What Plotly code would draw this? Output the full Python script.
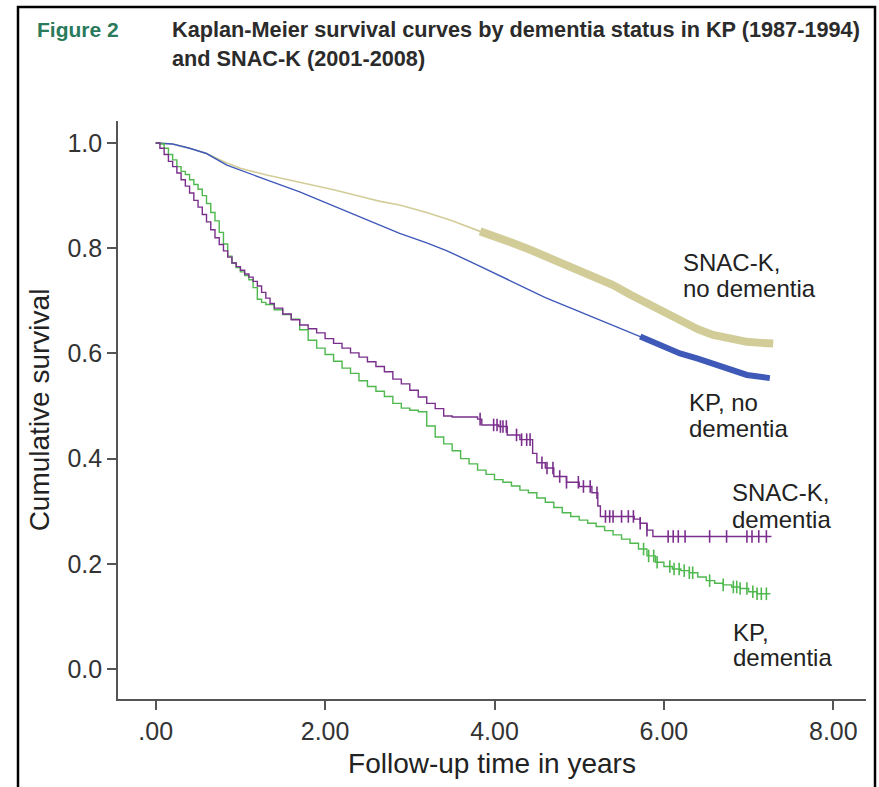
import plotly.graph_objects as go

# ---------------- data ----------------
# SNAC-K, no dementia
snack_nd_t = [0, 0.2, 0.4, 0.6, 0.84, 1.0, 1.31, 1.7, 2.1, 2.5, 2.65, 2.88, 3.2, 3.5, 3.83, 4.03, 4.2, 4.42, 4.7, 4.93, 5.15, 5.4, 5.6, 5.8, 6.0, 6.19, 6.4, 6.58, 6.8, 6.98, 7.15, 7.29]
snack_nd_s = [1.0, 0.998, 0.99, 0.98, 0.962, 0.952, 0.939, 0.925, 0.911, 0.895, 0.889, 0.882, 0.868, 0.852, 0.832, 0.822, 0.811, 0.797, 0.778, 0.762, 0.748, 0.730, 0.712, 0.695, 0.676, 0.660, 0.646, 0.635, 0.627, 0.622, 0.620, 0.619]
snack_nd_dense_from = 3.83

# KP, no dementia
kp_nd_t = [0, 0.2, 0.4, 0.6, 0.84, 1.0, 1.31, 1.7, 2.1, 2.5, 2.88, 3.2, 3.44, 3.8, 4.22, 4.6, 5.01, 5.4, 5.72, 6.0, 6.19, 6.4, 6.58, 6.8, 6.98, 7.25]
kp_nd_s = [1.0, 0.998, 0.99, 0.98, 0.958, 0.948, 0.930, 0.907, 0.880, 0.853, 0.828, 0.810, 0.795, 0.768, 0.735, 0.706, 0.679, 0.654, 0.632, 0.613, 0.600, 0.590, 0.581, 0.569, 0.559, 0.553]
kp_nd_dense_from = 5.72

# SNAC-K, dementia
snack_d_t = [0, 0.05, 0.1, 0.15, 0.2, 0.25, 0.3, 0.35, 0.4, 0.45, 0.5, 0.55, 0.6, 0.65, 0.7, 0.75, 0.8, 0.85, 0.9, 0.95, 1.0, 1.05, 1.1, 1.15, 1.2, 1.25, 1.3, 1.35, 1.4, 1.5, 1.6, 1.7, 1.8, 1.9, 2.0, 2.1, 2.2, 2.3, 2.4, 2.5, 2.6, 2.7, 2.8, 2.9, 3.0, 3.1, 3.2, 3.3, 3.4, 3.5, 3.8, 3.85, 4.05, 4.15, 4.3, 4.45, 4.5, 4.6, 4.7, 4.85, 5.0, 5.15, 5.22, 5.25, 5.65, 5.72, 5.8, 5.87, 7.27]
snack_d_s = [1.0, 0.990, 0.978, 0.965, 0.955, 0.943, 0.930, 0.918, 0.905, 0.891, 0.878, 0.864, 0.850, 0.835, 0.820, 0.807, 0.795, 0.783, 0.772, 0.765, 0.758, 0.751, 0.745, 0.737, 0.728, 0.716, 0.705, 0.695, 0.686, 0.675, 0.664, 0.654, 0.647, 0.639, 0.628, 0.619, 0.610, 0.601, 0.593, 0.584, 0.575, 0.565, 0.551, 0.542, 0.530, 0.517, 0.505, 0.495, 0.481, 0.479, 0.475, 0.464, 0.461, 0.445, 0.436, 0.410, 0.392, 0.382, 0.366, 0.355, 0.347, 0.335, 0.310, 0.290, 0.285, 0.277, 0.264, 0.252, 0.252]
snack_d_cens = [3.83, 3.99, 4.03, 4.07, 4.10, 4.14, 4.26, 4.32, 4.38, 4.42, 4.56, 4.62, 4.69, 4.77, 4.85, 4.99, 5.05, 5.13, 5.21, 5.31, 5.36, 5.40, 5.50, 5.58, 5.64, 5.72, 5.80, 6.05, 6.11, 6.17, 6.25, 6.54, 6.74, 6.98, 7.04, 7.12, 7.21]

# KP, dementia
kp_d_t = [0, 0.05, 0.1, 0.15, 0.2, 0.25, 0.3, 0.35, 0.4, 0.45, 0.5, 0.55, 0.6, 0.65, 0.7, 0.75, 0.8, 0.85, 0.9, 0.95, 1.0, 1.05, 1.1, 1.15, 1.2, 1.25, 1.3, 1.4, 1.5, 1.6, 1.7, 1.8, 1.9, 2.0, 2.1, 2.2, 2.3, 2.4, 2.5, 2.6, 2.7, 2.8, 2.9, 3.0, 3.1, 3.2, 3.3, 3.4, 3.5, 3.6, 3.7, 3.8, 3.9, 4.0, 4.1, 4.2, 4.3, 4.4, 4.5, 4.6, 4.7, 4.8, 4.9, 5.0, 5.1, 5.2, 5.3, 5.4, 5.5, 5.6, 5.7, 5.8, 5.9, 6.0, 6.1, 6.2, 6.3, 6.4, 6.5, 6.6, 6.7, 6.8, 6.9, 7.0, 7.1, 7.25]
kp_d_s = [1.0, 0.998, 0.990, 0.978, 0.968, 0.955, 0.946, 0.940, 0.930, 0.921, 0.912, 0.900, 0.885, 0.868, 0.852, 0.830, 0.808, 0.785, 0.772, 0.763, 0.755, 0.748, 0.740, 0.725, 0.703, 0.697, 0.693, 0.683, 0.674, 0.665, 0.645, 0.625, 0.610, 0.598, 0.585, 0.572, 0.562, 0.548, 0.537, 0.528, 0.518, 0.505, 0.496, 0.492, 0.489, 0.462, 0.441, 0.428, 0.415, 0.400, 0.390, 0.378, 0.370, 0.360, 0.355, 0.348, 0.340, 0.335, 0.325, 0.317, 0.307, 0.297, 0.290, 0.283, 0.277, 0.271, 0.263, 0.255, 0.247, 0.239, 0.228, 0.215, 0.203, 0.195, 0.190, 0.187, 0.183, 0.175, 0.168, 0.163, 0.160, 0.156, 0.153, 0.147, 0.143, 0.142]
kp_d_cens = [5.76, 5.82, 5.88, 5.92, 6.07, 6.12, 6.18, 6.24, 6.30, 6.34, 6.54, 6.70, 6.82, 6.86, 6.90, 6.98, 7.05, 7.10, 7.15, 7.21]

x_ticks = [0, 2, 4, 6, 8]
x_tick_text = [".00", "2.00", "4.00", "6.00", "8.00"]
y_ticks = [0.0, 0.2, 0.4, 0.6, 0.8, 1.0]
y_tick_text = ["0.0", "0.2", "0.4", "0.6", "0.8", "1.0"]

title_tag = "Figure 2"
title_lines = ["Kaplan-Meier survival curves by dementia status in KP (1987-1994)",
               "and SNAC-K (2001-2008)"]

# ---------------- styling ----------------
C_KHAKI = "#d2cd98"
C_BLUE = "#3f59b8"
C_PURPLE = "#7a2f8c"
C_GREEN = "#4fb84f"
FONT = "Liberation Sans, Arial, sans-serif"

W, H = 879, 787
ML, MR, MT, MB = 118, 13, 121, 88
PW, PH = W - ML - MR, H - MT - MB


def px_x(p):
    return (p - ML) / PW


def px_y(p):
    return (H - MB - p) / PH


def step_at(ts, ss, t):
    val = ss[0]
    for ti, si in zip(ts, ss):
        if ti <= t:
            val = si
    return val


fig = go.Figure()

fig.add_trace(go.Scatter(x=snack_nd_t, y=snack_nd_s, mode="lines",
                         line=dict(color=C_KHAKI, width=1.6), hoverinfo="skip"))
fig.add_trace(go.Scatter(x=kp_nd_t, y=kp_nd_s, mode="lines",
                         line=dict(color=C_BLUE, width=1.4), hoverinfo="skip"))
fig.add_trace(go.Scatter(x=kp_d_t, y=kp_d_s, mode="lines", line_shape="hv",
                         line=dict(color=C_GREEN, width=1.4), hoverinfo="skip"))
fig.add_trace(go.Scatter(x=snack_d_t, y=snack_d_s, mode="lines", line_shape="hv",
                         line=dict(color=C_PURPLE, width=1.4), hoverinfo="skip"))

# densely censored parts (appear as a thick band)
kx = [t for t in snack_nd_t if t >= snack_nd_dense_from]
ky = [s for t, s in zip(snack_nd_t, snack_nd_s) if t >= snack_nd_dense_from]
fig.add_trace(go.Scatter(x=kx, y=ky, mode="lines",
                         line=dict(color=C_KHAKI, width=8), hoverinfo="skip"))
bx = [t for t in kp_nd_t if t >= kp_nd_dense_from]
by = [s for t, s in zip(kp_nd_t, kp_nd_s) if t >= kp_nd_dense_from]
fig.add_trace(go.Scatter(x=bx, y=by, mode="lines",
                         line=dict(color=C_BLUE, width=6), hoverinfo="skip"))

# censor marks
fig.add_trace(go.Scatter(x=snack_d_cens, y=[step_at(snack_d_t, snack_d_s, t) for t in snack_d_cens],
                         mode="markers", marker=dict(symbol="line-ns", size=9,
                                                     line=dict(color=C_PURPLE, width=1.6)),
                         hoverinfo="skip"))
fig.add_trace(go.Scatter(x=kp_d_cens, y=[step_at(kp_d_t, kp_d_s, t) for t in kp_d_cens],
                         mode="markers", marker=dict(symbol="line-ns", size=9,
                                                     line=dict(color=C_GREEN, width=1.6)),
                         hoverinfo="skip"))

x0 = (ML - 155.7) / 84.7
x1 = (W - MR - 155.7) / 84.7
y0 = (669 - (H - MB)) / 526
y1 = 1 + (143 - MT) / 526

fig.update_layout(
    width=W, height=H,
    margin=dict(l=ML, r=MR, t=MT, b=MB),
    paper_bgcolor="white", plot_bgcolor="white",
    showlegend=False,
    font=dict(family=FONT, color="#222"),
    xaxis=dict(range=[x0, x1], tickvals=x_ticks, ticktext=x_tick_text,
               showgrid=False, zeroline=False, showline=True, linecolor="#555", linewidth=1.6,
               ticks="outside", ticklen=9, tickwidth=1.6, tickcolor="#555",
               tickfont=dict(size=25, color="#333"),
               title=dict(text="Follow-up time in years", font=dict(size=28, color="#222"), standoff=10)),
    yaxis=dict(range=[y0, y1], tickvals=y_ticks, ticktext=y_tick_text,
               showgrid=False, zeroline=False, showline=True, linecolor="#555", linewidth=1.6,
               ticks="outside", ticklen=9, tickwidth=1.6, tickcolor="#555",
               tickfont=dict(size=25, color="#333"),
               title=dict(text="Cumulative survival", font=dict(size=28, color="#222"), standoff=10)),
)

# figure frame
fig.add_shape(type="rect", xref="paper", yref="paper",
              x0=px_x(18), x1=px_x(875), y0=px_y(800), y1=px_y(7),
              line=dict(color="black", width=2.5), fillcolor="rgba(0,0,0,0)", layer="above")

# title
fig.add_annotation(x=px_x(35), y=px_y(30), xref="paper", yref="paper", text="<b>" + title_tag + "</b>",
                   showarrow=False, xanchor="left", yanchor="middle",
                   font=dict(size=21, color="#2a7a5c", family=FONT))
for i, line in enumerate(title_lines):
    fig.add_annotation(x=px_x(170), y=px_y(30 + 28 * i), xref="paper", yref="paper",
                       text="<b>" + line + "</b>",
                       showarrow=False, xanchor="left", yanchor="middle",
                       font=dict(size=21.7, color="#2b2b2b", family=FONT))

# curve labels
labels = [
    (681, 262, "SNAC-K,"), (681, 288, "no dementia"),
    (687, 402, "KP, no"), (687, 428, "dementia"),
    (730, 492, "SNAC-K,"), (730, 519, "dementia"),
    (731, 632, "KP,"), (731, 657, "dementia"),
]
for lx, ly, txt in labels:
    fig.add_annotation(x=px_x(lx), y=px_y(ly), xref="paper", yref="paper", text=txt,
                       showarrow=False, xanchor="left", yanchor="middle",
                       font=dict(size=24, color="#222", family=FONT))

fig.write_html("out.html", config={"displayModeBar": False},
               post_script="document.body.style.margin='0px';")
